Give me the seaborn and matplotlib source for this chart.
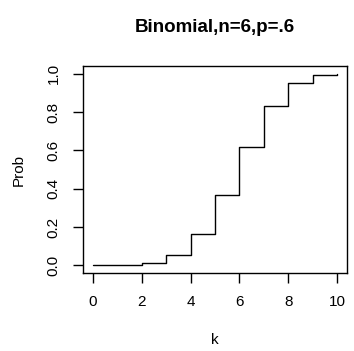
import pandas as pd
import seaborn as sns
import matplotlib.pyplot as plt

# Cumulative probabilities
k_values = [0, 1, 2, 3, 4, 5, 6, 7, 8, 9, 10]
cum_prob = [0.0001, 0.0017, 0.0123, 0.0548, 0.1662, 0.3669,
            0.6177, 0.8327, 0.9536, 0.9940, 1.0]
x_ticks = [0, 2, 4, 6, 8, 10]
y_ticks = [0.0, 0.2, 0.4, 0.6, 0.8, 1.0]

df = pd.DataFrame({"k": k_values, "Prob": cum_prob})

sns.set_theme(style="ticks")
plt.rcParams["font.family"] = ["Liberation Sans", "DejaVu Sans"]
plt.rcParams["text.color"] = "black"
plt.rcParams["axes.labelcolor"] = "black"

fig = plt.figure(figsize=(3.54, 3.51), dpi=100)
ax = fig.add_axes([0.2345, 0.222, 0.7455, 0.590])

sns.lineplot(data=df, x="k", y="Prob", drawstyle="steps-post",
             color="black", linewidth=1.0, ax=ax)

ax.set_xlim(-0.4, 10.4)
ax.set_ylim(-0.04, 1.04)
ax.set_xticks(x_ticks)
ax.set_xticklabels([str(t) for t in x_ticks])
ax.set_yticks(y_ticks)
ax.set_yticklabels([f"{t:.1f}" for t in y_ticks], rotation=90, va="center")

for s in ax.spines.values():
    s.set_visible(True)
    s.set_linewidth(1.0)
    s.set_color("black")

ax.tick_params(direction="out", length=7, width=1.0, labelsize=11,
               colors="black", pad=9)
ax.set_xlabel("k", fontsize=11, labelpad=17, color="black")
ax.set_ylabel("Prob", fontsize=11, labelpad=15, color="black")
fig.text(0.607, 0.923, "Binomial,n=6,p=.6", ha="center", va="center",
         fontsize=13.5, fontweight="bold", color="black")

fig.savefig("out.png", dpi=100)
